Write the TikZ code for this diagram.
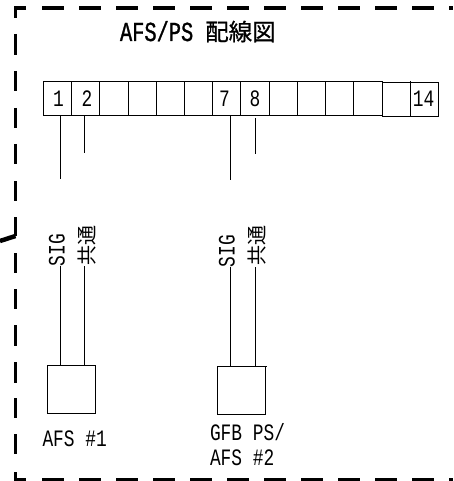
\documentclass[tikz,border=0pt]{standalone}
\usepackage{fontspec}
\newfontfamily\labf[FakeStretch=0.76]{Liberation Mono}
\newfontfamily\titf[FakeStretch=0.74,FakeBold=1]{Liberation Mono}
\newfontfamily\cjkf{Noto Sans CJK JP}
\newfontfamily\cjkt[FakeBold=0.8]{Noto Sans CJK JP}
\tikzset{
  cell/.style={draw=black,line width=1pt,minimum width=#1,minimum height=34pt,inner sep=0pt,outer sep=0pt},
  cell/.default=28pt,
  devbox/.style={draw=black,line width=1pt,minimum width=48pt,minimum height=48.5pt,inner sep=0pt,outer sep=0pt},
  wire/.style={line width=1pt,line cap=butt},
  frame/.style={line width=3.2pt,line cap=butt},
  lab/.style={inner sep=0pt,outer sep=0pt,anchor=base west,text=black,font=\labf\fontsize{23.5}{25}\selectfont},
  num/.style={inner sep=0pt,outer sep=0pt,anchor=base,text=black,font=\labf\fontsize{23.5}{25}\selectfont},
  vlab/.style={lab,rotate=90},
  vjp/.style={inner sep=0pt,outer sep=0pt,anchor=base west,rotate=90,text=black,font=\cjkf\fontsize{20}{20}\selectfont},
}
\begin{document}
\begin{tikzpicture}[x=1pt,y=-1pt]
\useasboundingbox[clip] (0,0) rectangle (453,481);
% frame
\draw[frame] (26,8) -- (15.5,8) -- (15.5,18);
\draw[frame,dash pattern=on 22pt off 15pt] (42,8) -- (453,8);
\draw[frame] (15.5,34) -- (15.5,55);
\draw[frame] (15.5,71) -- (15.5,91);
\draw[frame] (15.5,108) -- (15.5,128);
\draw[frame] (15.5,144) -- (15.5,164);
\draw[frame] (15.5,181) -- (15.5,201);
\draw[frame] (15.5,217) -- (15.5,236);
\draw[frame] (15.5,253) -- (15.5,273);
\draw[frame] (15.5,289) -- (15.5,309);
\draw[frame] (15.5,325) -- (15.5,346);
\draw[frame] (15.5,362) -- (15.5,383);
\draw[frame] (15.5,398) -- (15.5,418);
\draw[frame] (15.5,434) -- (15.5,454);
\draw[frame] (15.5,472) -- (15.5,480) -- (26,480);
\draw[frame,dash pattern=on 22pt off 15pt] (42,480) -- (453,480);
\draw[line width=4.5pt] (0,241) -- (15.5,236);
% title
\node[lab,font=\titf\fontsize{27.5}{27}\selectfont] (title) at (120,41) {AFS/PS};
\node[inner sep=0pt,anchor=base west,font=\cjkt\fontsize{23.5}{24}\selectfont] (titlejp) at (205,40.5) {配線図};
% terminal strip
\foreach \n/\a/\b in {1/43.5/71.5,2/71.5/99.5,3/99.5/128,4/128/156,5/156/184,6/184/212.5,7/212.5/240.5,8/240.5/269.5,9/269.5/297.5,10/297.5/325.5,11/325.5/353.5,12/353.5/382.5}{
  \pgfmathsetmacro\w{\b-\a}
  \pgfmathsetmacro\c{(\a+\b)/2}
  \node[cell=\w pt] (c\n) at (\c,98.5) {};
}
\node[num] (t1) at (58.5,107) {1};
\node[num] (t2) at (87,107) {2};
\node[num] (t7) at (224.5,107) {7};
\node[num] (t8) at (255,107) {8};
\node[cell=28pt] (c13) at (396.5,99.5) {};
\node[cell=28pt] (c14) at (424.5,99.5) {};
\node[num] (t14) at (423.5,107) {14};
\draw[wire] (c14.north west) -- ++(0,-1.5);
% free wire ends
\coordinate (e1) at (60.5,179);
\coordinate (e2) at (84.5,153);
\coordinate (e7) at (230.5,180);
\coordinate (e8) at (255.5,154);
\draw[wire] (c1.south -| e1) -- (e1);
\draw[wire] (c2.south -| e2) -- (e2);
\draw[wire] (c7.south -| e7) -- (e7);
\coordinate (s8) at (255.5,118);
\draw[wire] (s8) -- (e8);
% devices
\node[devbox] (afs1) at (71.5,389.25) {};
\node[devbox] (gfb) at (241.5,390.25) {};
\draw[wire] (gfb.north east) -- ++(1,0);
% vertical labels
\node[vlab] (sig1) at (64.5,266) {SIG};
\node[vjp] (com1) at (94,265) {共通};
\node[vlab] (sig2) at (234.5,267) {SIG};
\node[vjp] (com2) at (264.5,265) {共通};
\coordinate (w1) at (60.5,266);
\coordinate (w2) at (84.5,266);
\coordinate (w7) at (230.5,267);
\coordinate (w8) at (255.5,267);
\draw[wire] (w1) -- (afs1.north -| w1);
\draw[wire] (w2) -- (afs1.north -| w2);
\draw[wire] (w7) -- (gfb.north -| w7);
\draw[wire] (w8) -- (gfb.north -| w8);
% device labels
\node[lab] (l1) at (42.5,446) {AFS \#1};
\node[lab] (l2) at (210,440) {GFB PS/};
\node[lab] (l3) at (210,465) {AFS \#2};
\end{tikzpicture}
\end{document}
